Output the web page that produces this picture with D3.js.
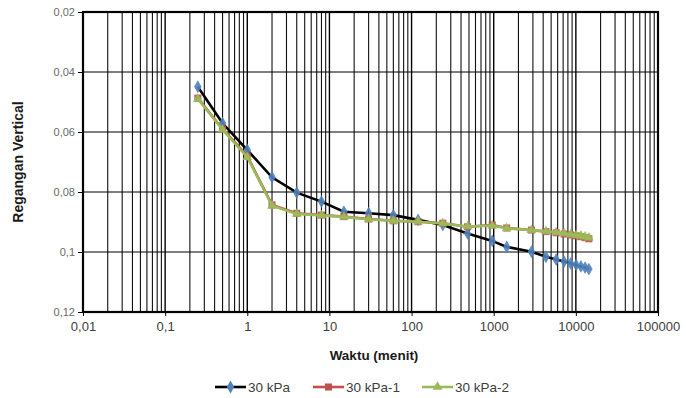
<!DOCTYPE html>
<html>
<head>
<meta charset="utf-8">
<script src="https://cdn.jsdelivr.net/npm/d3@7"></script>
<style>
  body { margin: 0; background: #fff; }
  svg { display: block; font-family: "Liberation Sans", Arial, sans-serif; }
</style>
</head>
<body>
<svg id="chart" width="686" height="398"></svg>
<script>
// Time readings (minutes)
const times = [0.25, 0.5, 1, 2, 4, 8, 15, 30, 60, 120, 240, 480, 960, 1440, 2880,
               4320, 5760, 7200, 8640, 10080, 11520, 12960, 14400];

// Vertical strain readings per series
const strain30 = [0.0449, 0.0571, 0.0660, 0.0751, 0.0802, 0.0832, 0.0866, 0.0871, 0.0877, 0.0893,
                  0.0910, 0.0938, 0.0963, 0.0983, 0.0999,
                  0.1016, 0.1025, 0.1032, 0.1038, 0.1043, 0.1048, 0.1052, 0.1057];
const strain30_1 = [0.0487, 0.0590, 0.0680, 0.0843, 0.0871, 0.0877, 0.0882, 0.0890, 0.0896, 0.0899,
                    0.0904, 0.0916, 0.0910, 0.0920, 0.0927,
                    0.0932, 0.0936, 0.0940, 0.0943, 0.0946, 0.0949, 0.0952, 0.0956];
const strain30_2 = [0.0490, 0.0592, 0.0684, 0.0846, 0.0873, 0.0878, 0.0883, 0.0891, 0.0896, 0.0899,
                    0.0905, 0.0915, 0.0912, 0.0921, 0.0927,
                    0.0931, 0.0935, 0.0938, 0.0941, 0.0944, 0.0946, 0.0949, 0.0952];

const seriesNames = ["30 kPa", "30 kPa-1", "30 kPa-2"];

// Axis ticks
const xTicks = [0.01, 0.1, 1, 10, 100, 1000, 10000, 100000];
const xTickLabels = ["0,01", "0,1", "1", "10", "100", "1000", "10000", "100000"];
const yTicks = [0.02, 0.04, 0.06, 0.08, 0.1, 0.12];
const yTickLabels = ["0,02", "0,04", "0,06", "0,08", "0,1", "0,12"];

const svg = d3.select("#chart");
const plot = { left: 83, top: 12, right: 658, bottom: 312 };

const x = d3.scaleLog().domain([0.01, 100000]).range([plot.left, plot.right]);
const y = d3.scaleLinear().domain([0.02, 0.12]).range([plot.top, plot.bottom]);

// Vertical log grid: every 2..9 multiple in each decade
const minor = [];
for (let e = -2; e < 5; e++) {
  for (let m = 2; m <= 9; m++) minor.push(m * Math.pow(10, e));
}
svg.append("g").selectAll("line").data(minor).join("line")
  .attr("x1", d => x(d)).attr("x2", d => x(d))
  .attr("y1", plot.top).attr("y2", plot.bottom)
  .attr("stroke", "#111").attr("stroke-width", 1.1);
svg.append("g").selectAll("line").data(xTicks).join("line")
  .attr("x1", d => x(d)).attr("x2", d => x(d))
  .attr("y1", plot.top).attr("y2", plot.bottom)
  .attr("stroke", "#000").attr("stroke-width", 1.4);

// Horizontal grid
svg.append("g").selectAll("line").data(yTicks).join("line")
  .attr("x1", plot.left).attr("x2", plot.right)
  .attr("y1", d => y(d)).attr("y2", d => y(d))
  .attr("stroke", "#000").attr("stroke-width", 1);

// Axes
const xAxis = d3.axisBottom(x).tickValues(xTicks)
  .tickFormat((d, i) => xTickLabels[i]).tickSize(4).tickPadding(6);
const gx = svg.append("g").attr("transform", `translate(0,${plot.bottom})`).call(xAxis);
gx.select(".domain").remove();
gx.selectAll("line").attr("stroke", "#000");
gx.selectAll("text").attr("fill", "#404040").style("font-size", "13px");

const yAxis = d3.axisLeft(y).tickValues(yTicks)
  .tickFormat((d, i) => yTickLabels[i]).tickSize(5).tickPadding(3);
const gy = svg.append("g").attr("transform", `translate(${plot.left},0)`).call(yAxis);
gy.select(".domain").remove();
gy.selectAll("line").attr("stroke", "#000");
gy.selectAll("text").attr("fill", "#6a6a6a").style("font-size", "11px");

// Plot border
svg.append("rect")
  .attr("x", plot.left).attr("y", plot.top)
  .attr("width", plot.right - plot.left).attr("height", plot.bottom - plot.top)
  .attr("fill", "none").attr("stroke", "#000").attr("stroke-width", 2.2);

// Series
const series = [
  { name: seriesNames[0], values: strain30, line: "#000", fill: "#4F81BD", shape: d3.symbolDiamond, size: 48 },
  { name: seriesNames[1], values: strain30_1, line: "#C0504D", fill: "#C0504D", shape: d3.symbolSquare, size: 50 },
  { name: seriesNames[2], values: strain30_2, line: "#9BBB59", fill: "#9BBB59", shape: d3.symbolTriangle, size: 42 }
];

const lineGen = d3.line().x(d => x(d[0])).y(d => y(d[1]));

series.forEach(s => {
  const pts = times.map((t, i) => [t, s.values[i]]);
  const g = svg.append("g");
  g.append("path").datum(pts)
    .attr("d", lineGen).attr("fill", "none")
    .attr("stroke", s.line).attr("stroke-width", 2.6);
  g.selectAll("path.m").data(pts).join("path").attr("class", "m")
    .attr("transform", d => `translate(${x(d[0])},${y(d[1])})`)
    .attr("d", d3.symbol().type(s.shape).size(s.size))
    .attr("fill", s.fill).attr("opacity", 0.9);
});

// Axis titles
svg.append("text")
  .attr("x", 374).attr("y", 360)
  .attr("text-anchor", "middle")
  .style("font-size", "13.5px").style("font-weight", "bold")
  .attr("fill", "#1a1a1a")
  .text("Waktu (menit)");

svg.append("text")
  .attr("transform", "translate(23,162) rotate(-90)")
  .attr("text-anchor", "middle")
  .style("font-size", "14px").style("font-weight", "bold")
  .attr("fill", "#1a1a1a")
  .text("Regangan Vertical");

// Legend
const legendX = [215, 313, 422];
const legend = svg.append("g");
series.forEach((s, i) => {
  const lx = legendX[i];
  const ly = 387;
  legend.append("line")
    .attr("x1", lx).attr("x2", lx + 31).attr("y1", ly).attr("y2", ly)
    .attr("stroke", s.line).attr("stroke-width", 2.6);
  legend.append("path")
    .attr("transform", `translate(${lx + 15.5},${ly})`)
    .attr("d", d3.symbol().type(s.shape).size(s.size))
    .attr("fill", s.fill);
  legend.append("text")
    .attr("x", lx + 33).attr("y", ly + 5)
    .style("font-size", "13.5px").attr("fill", "#404040")
    .text(s.name);
});
</script>
</body>
</html>
